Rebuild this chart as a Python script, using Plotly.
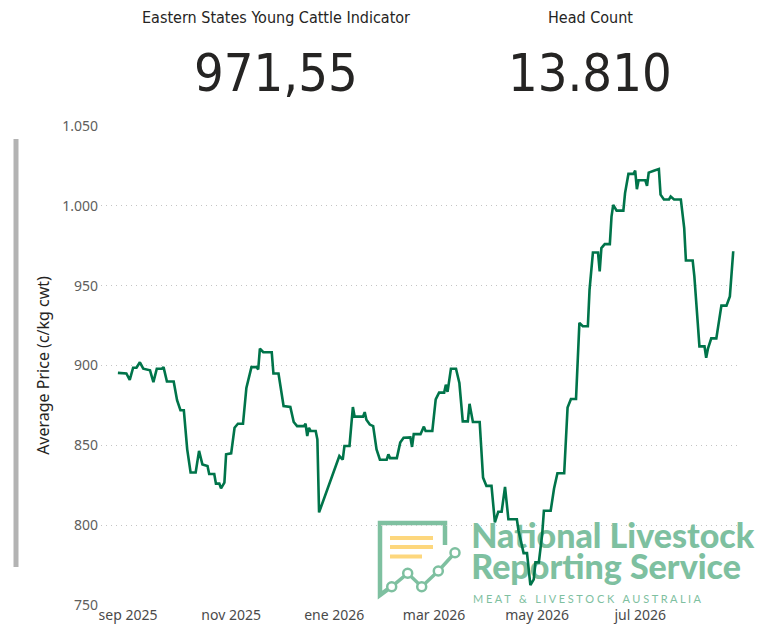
import datetime as dt
import plotly.graph_objects as go

# Eastern States Young Cattle Indicator, c/kg cwt
dates = [
    "2025-08-26", "2025-08-31", "2025-09-02", "2025-09-04", "2025-09-06", "2025-09-08",
    "2025-09-10", "2025-09-13", "2025-09-14", "2025-09-16", "2025-09-18", "2025-09-21",
    "2025-09-22", "2025-09-24", "2025-09-28", "2025-09-30", "2025-10-02", "2025-10-04",
    "2025-10-06", "2025-10-08", "2025-10-11", "2025-10-13", "2025-10-15", "2025-10-18",
    "2025-10-19", "2025-10-22", "2025-10-23", "2025-10-25", "2025-10-26", "2025-10-28",
    "2025-10-29", "2025-11-01", "2025-11-03", "2025-11-05", "2025-11-08", "2025-11-10",
    "2025-11-13", "2025-11-16", "2025-11-17", "2025-11-18", "2025-11-20", "2025-11-25",
    "2025-11-26", "2025-11-29", "2025-12-02", "2025-12-06", "2025-12-08", "2025-12-10",
    "2025-12-14", "2025-12-15", "2025-12-16", "2025-12-17", "2025-12-18", "2025-12-21",
    "2025-12-22", "2025-12-23", "2026-01-04", "2026-01-06", "2026-01-07", "2026-01-10",
    "2026-01-12", "2026-01-13", "2026-01-18", "2026-01-19", "2026-01-20", "2026-01-22",
    "2026-01-24", "2026-01-26", "2026-01-28", "2026-02-01", "2026-02-02", "2026-02-03",
    "2026-02-07", "2026-02-09", "2026-02-11", "2026-02-15", "2026-02-16", "2026-02-17",
    "2026-02-21", "2026-02-23", "2026-02-24", "2026-02-28", "2026-03-02", "2026-03-04",
    "2026-03-07", "2026-03-08", "2026-03-09", "2026-03-11", "2026-03-14", "2026-03-16",
    "2026-03-18", "2026-03-21", "2026-03-22", "2026-03-24", "2026-03-28", "2026-03-30",
    "2026-04-01", "2026-04-04", "2026-04-06", "2026-04-08", "2026-04-10", "2026-04-12",
    "2026-04-14", "2026-04-19", "2026-04-20", "2026-04-23", "2026-04-25", "2026-04-27",
    "2026-04-29", "2026-04-30", "2026-05-02", "2026-05-04", "2026-05-05", "2026-05-09",
    "2026-05-11", "2026-05-13", "2026-05-17", "2026-05-19", "2026-05-21", "2026-05-24",
    "2026-05-25", "2026-05-26", "2026-05-28", "2026-05-31", "2026-06-01", "2026-06-03",
    "2026-06-06", "2026-06-07", "2026-06-08", "2026-06-10", "2026-06-13", "2026-06-14",
    "2026-06-15", "2026-06-17", "2026-06-21", "2026-06-22", "2026-06-24", "2026-06-27",
    "2026-06-28", "2026-06-29", "2026-06-30", "2026-07-04", "2026-07-05", "2026-07-06",
    "2026-07-09", "2026-07-12", "2026-07-13", "2026-07-15", "2026-07-18", "2026-07-19",
    "2026-07-21", "2026-07-25", "2026-07-27", "2026-07-28", "2026-08-01", "2026-08-02",
    "2026-08-04", "2026-08-05", "2026-08-08", "2026-08-09", "2026-08-10", "2026-08-12",
    "2026-08-15", "2026-08-17", "2026-08-18", "2026-08-21", "2026-08-23", "2026-08-25",
]
prices = [
    895.4, 895.0, 891.0, 898.6, 898.6, 902.0,
    898.0, 897.0, 897.0, 889.6, 898.0, 898.0,
    899.0, 890.0, 890.0, 878.3, 872.0, 872.0,
    847.5, 833.0, 833.0, 846.5, 838.0, 837.0,
    832.0, 832.0, 826.0, 826.0, 823.0, 826.6,
    844.4, 845.0, 861.0, 863.5, 863.5, 886.0,
    899.0, 899.0, 897.5, 910.6, 908.3, 908.3,
    895.0, 895.0, 874.6, 874.0, 864.6, 862.0,
    862.0, 863.5, 855.8, 861.0, 859.0, 859.0,
    853.7, 808.0, 843.3, 841.0, 849.6, 849.6,
    874.0, 868.0, 868.0, 870.8, 866.0, 863.0,
    862.0, 847.5, 841.0, 841.0, 844.4, 842.0,
    842.0, 851.7, 854.8, 855.0, 849.0, 857.0,
    857.0, 861.7, 859.0, 859.0, 878.8, 883.0,
    883.0, 888.0, 883.5, 898.0, 898.0, 889.0,
    865.0, 865.0, 876.0, 864.6, 864.6, 829.8,
    824.6, 824.6, 801.7, 808.4, 808.4, 824.0,
    803.7, 803.7, 796.5, 782.5, 782.5, 762.5,
    766.0, 776.7, 776.7, 794.4, 809.0, 809.0,
    823.0, 832.5, 832.5, 873.6, 879.0, 879.0,
    903.8, 926.7, 924.6, 924.6, 947.5, 970.8,
    970.8, 959.0, 973.5, 976.0, 976.0, 993.3,
    1000.6, 997.0, 997.0, 1008.0, 1020.0, 1020.0,
    1022.0, 1010.4, 1016.0, 1016.0, 1012.5, 1020.8,
    1022.0, 1023.0, 1007.0, 1004.0, 1004.0, 1005.8,
    1004.0, 1004.0, 986.0, 965.8, 965.8, 955.8,
    926.7, 912.0, 912.0, 904.8, 910.4, 917.0,
    917.0, 931.9, 937.5, 937.5, 943.3, 971.55,
]
head_count = 13810

tick_dates = ["2025-09-01", "2025-11-01", "2026-01-01", "2026-03-01", "2026-05-01", "2026-07-01"]
tick_labels = ["sep 2025", "nov 2025", "ene 2026", "mar 2026", "may 2026", "jul 2026"]

# the page body keeps its default 8px margin, so the figure is drawn 8px smaller
# and every position below is given in window pixels minus that offset
OFF = 8
W, H = 777 - OFF, 626 - OFF
ML, MR, MT, MB = 101 - OFF, 37, 126 - OFF, 21
x_range = ["2025-08-16", "2026-08-29"]
y_range = [750, 1050]

LINE = "#00744A"
LOGO_GREEN = "#7EC0A0"
LOGO_YELLOW = "#FDD77D"
BASE_FONT = "Noto Sans"


# window pixel -> paper coords
def paper(x, y):
    x, y = x - OFF, y - OFF
    return (x - ML) / (W - ML - MR), (H - MB - y) / (H - MT - MB)


def data_at(x, y):
    d0 = dt.date.fromisoformat(x_range[0])
    d1 = dt.date.fromisoformat(x_range[1])
    fx, fy = paper(x, y)
    d = d0 + dt.timedelta(days=round(fx * (d1 - d0).days))
    return d.isoformat(), y_range[0] + fy * (y_range[1] - y_range[0])


fig = go.Figure()

# watermark text goes first so the price line sits on top of it
logo_big = ["National Livestock", "Reporting Service"]
big_px = [(472, 539), (472, 570)]
bx, by = zip(*[data_at(*p) for p in big_px])
fig.add_trace(go.Scatter(
    x=list(bx), y=list(by), mode="text", text=logo_big,
    textposition="middle right", cliponaxis=False,
    textfont=dict(family="Lato", size=34, color=LOGO_GREEN, weight=900),
    hoverinfo="skip", showlegend=False,
))
sx, sy = data_at(473, 600)
fig.add_trace(go.Scatter(
    x=[sx], y=[sy], mode="text",
    text=["M E A T   &   L I V E S T O C K   A U S T R A L I A"],
    textposition="middle right", cliponaxis=False,
    textfont=dict(family="Lato", size=11, color=LOGO_GREEN),
    hoverinfo="skip", showlegend=False,
))

fig.add_trace(go.Scatter(
    x=dates, y=prices, mode="lines",
    line=dict(color=LINE, width=2.6),
    showlegend=False,
))

shapes = []
# logo icon: document outline
pts = [(445, 545), (445, 523), (380, 523), (380, 595), (391, 587)]
path = "M " + " L ".join("%.5f,%.5f" % paper(*p) for p in pts)
shapes.append(dict(type="path", xref="paper", yref="paper", path=path,
                   line=dict(color=LOGO_GREEN, width=4.5), layer="below"))
# yellow bars
for (x0, x1, y) in [(390, 433, 538), (390, 433, 547), (390, 422, 556.5)]:
    a = paper(x0, y)
    b = paper(x1, y)
    shapes.append(dict(type="line", xref="paper", yref="paper", x0=a[0], y0=a[1], x1=b[0], y1=b[1],
                       line=dict(color=LOGO_YELLOW, width=4), layer="below"))
# little chart with circles
chart_pts = [(391.7, 586.7), (407.7, 573.3), (421.7, 586.7), (438.3, 571), (455, 552.7)]
path = "M " + " L ".join("%.5f,%.5f" % paper(*p) for p in chart_pts)
shapes.append(dict(type="path", xref="paper", yref="paper", path=path,
                   line=dict(color=LOGO_GREEN, width=3.5), layer="below"))
for (cx, cy) in chart_pts:
    a = paper(cx - 4.5, cy - 4.5)
    b = paper(cx + 4.5, cy + 4.5)
    shapes.append(dict(type="circle", xref="paper", yref="paper",
                       x0=a[0], y0=b[1], x1=b[0], y1=a[1],
                       fillcolor="white", line=dict(color=LOGO_GREEN, width=2.5), layer="below"))
# grey scroll bar on the left
a = paper(16, 139)
b = paper(16, 567)
shapes.append(dict(type="line", xref="paper", yref="paper", x0=a[0], y0=a[1], x1=b[0], y1=b[1],
                   line=dict(color="#B3B3B3", width=5)))

annotations = []
kpi_font = "DejaVu Sans Condensed"
for cx, title, value in [
    (276, "Eastern States Young Cattle Indicator", f"{prices[-1]:.2f}".replace(".", ",")),
    (590, "Head Count", f"{head_count:,}".replace(",", ".")),
]:
    px_, py_ = paper(cx, 17)
    annotations.append(dict(x=px_, y=py_, xref="paper", yref="paper", text=title, showarrow=False,
                            xanchor="center", yanchor="middle",
                            font=dict(family=kpi_font, size=16, color="#252423")))
    px_, py_ = paper(cx, 73)
    annotations.append(dict(x=px_, y=py_, xref="paper", yref="paper", text=value, showarrow=False,
                            xanchor="center", yanchor="middle",
                            font=dict(family=kpi_font, size=52, color="#252423")))

fig.update_layout(
    width=W, height=H,
    margin=dict(l=ML, r=MR, t=MT, b=MB),
    paper_bgcolor="white", plot_bgcolor="white",
    separators=",.",
    font=dict(family=BASE_FONT, color="#605E5C"),
    shapes=shapes,
    annotations=annotations,
    hovermode=False,
)
fig.update_xaxes(
    range=x_range, tickvals=tick_dates, ticktext=tick_labels,
    showgrid=False, zeroline=False, showline=False, ticks="", automargin=False,
    tickfont=dict(size=14, color="#4A4A4A"), ticklabelstandoff=0,
)
fig.update_yaxes(
    range=y_range, dtick=50, tickformat=",",
    showgrid=True, gridcolor="#C4C4C4", griddash="1px,4px", gridwidth=1,
    zeroline=False, showline=False, ticks="", automargin=False,
    tickfont=dict(size=14, color="#605E5C"), ticklabelstandoff=2,
    title=dict(text="Average Price (c/kg cwt)", standoff=8,
               font=dict(size=16, color="#252423")),
)

fig.write_html("out.html")
